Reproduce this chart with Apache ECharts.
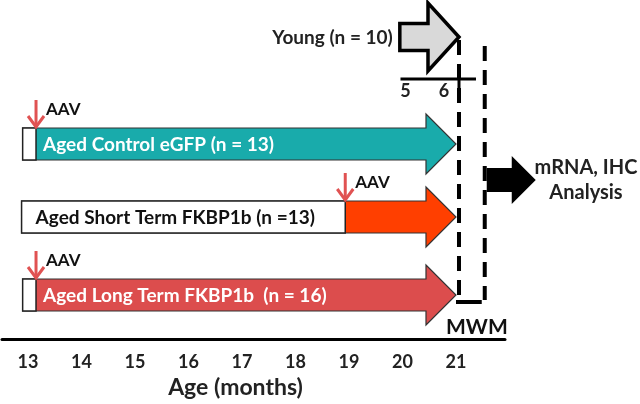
<!DOCTYPE html>
<html>
<head>
<meta charset="utf-8">
<script src="https://cdn.jsdelivr.net/npm/echarts@6/dist/echarts.min.js"></script>
<style>
  html, body { margin: 0; padding: 0; background: #fff; }
  #chart { width: 640px; height: 404px; }
</style>
</head>
<body>
<div id="chart"></div>
<script>
// data
const ageTicks = [13, 14, 15, 16, 17, 18, 19, 20, 21];
const groupNames = ['Aged Control eGFP (n = 13)', 'Aged Short Term FKBP1b (n =13)', 'Aged Long Term FKBP1b  (n = 16)'];
const groupStart = [12.9, 12.88, 12.9];   // age at start of bar (months)
const groupAav = [13.15, 18.93, 13.15];   // AAV injection age
const groupEnd = [21, 21, 21];            // age at arrow tip
const youngLabel = 'Young (n = 10)';
const youngStart = 4.95;
const youngEnd = 6;
const youngTicks = [5, 6];
const youngShift = 15;                    // young timeline drawn aligned to aged 21 mo
const mwmWindow = [21, 21.5];
const analysisLines = ['mRNA, IHC', 'Analysis'];

// layout / style
const FONT = 'Lato, "Open Sans", sans-serif';
const rowCenter = [144, 217, 295];
const groupColors = ['#19abab', '#ff3f00', '#dc4d4d'];
const aavColor = '#e05252';

function bold(size) { return { fontFamily: FONT, fontWeight: 'bold', fontSize: size }; }

function renderAged(params, api) {
  const i = params.dataIndex;
  const yc = rowCenter[i];
  const x0 = api.coord([api.value(0), yc])[0];
  const xa = api.coord([api.value(1), yc])[0];
  const xt = api.coord([api.value(2), yc])[0];
  const xb = xt - 30, h = 16, H = 30;
  const longColored = (xa - x0) < 60;
  return {
    type: 'group',
    children: [
      { type: 'polygon', shape: { points: [[x0, yc - h], [xb, yc - h], [xb, yc - H], [xt, yc], [xb, yc + H], [xb, yc + h], [x0, yc + h]] },
        style: { fill: groupColors[i], stroke: '#333', lineWidth: 1.2 } },
      { type: 'rect', shape: { x: x0, y: yc - h, width: xa - x0, height: 2 * h },
        style: { fill: '#fff', stroke: '#222', lineWidth: 1.5 } },
      { type: 'text', style: Object.assign({ text: groupNames[i], x: longColored ? xa + 7 : x0 + 14, y: yc + 1,
          fill: longColored ? '#fff' : '#111', verticalAlign: 'middle', align: 'left' }, bold(19)) },
      { type: 'polyline', shape: { points: [[xa, yc - h - 28], [xa, yc - h - 1]] },
        style: { stroke: aavColor, lineWidth: 3, fill: null } },
      { type: 'polyline', shape: { points: [[xa - 8, yc - h - 12], [xa, yc - h - 1], [xa + 8, yc - h - 12]] },
        style: { stroke: aavColor, lineWidth: 3, fill: null } },
      { type: 'text', style: Object.assign({ text: 'AAV', x: xa + 10, y: yc - h - 18, fill: '#111',
          verticalAlign: 'middle', align: 'left' }, bold(17)) }
    ]
  };
}

function renderYoung(params, api) {
  const yc = 37;
  const x0 = api.coord([api.value(0) + youngShift, 0])[0];
  const xt = api.coord([api.value(1) + youngShift, 0])[0] + 3;
  const xb = xt - 31, h = 13.5, H = 34;
  const t0 = api.coord([youngTicks[0] + youngShift, 0])[0];
  const t1 = api.coord([youngTicks[1] + youngShift, 0])[0];
  return {
    type: 'group',
    children: [
      { type: 'polygon', shape: { points: [[x0, yc - h], [xb, yc - h], [xb, yc - H], [xt, yc], [xb, yc + H], [xb, yc + h], [x0, yc + h]] },
        style: { fill: '#d9d9d9', stroke: '#000', lineWidth: 3.5, lineJoin: 'miter' } },
      { type: 'text', style: Object.assign({ text: youngLabel, x: x0 - 7, y: yc + 1, fill: '#222',
          verticalAlign: 'middle', align: 'right' }, bold(19)) },
      { type: 'line', shape: { x1: t0 - 2, y1: 79, x2: xt + 17, y2: 79 }, style: { stroke: '#000', lineWidth: 3 } },
      { type: 'line', shape: { x1: xt, y1: 71, x2: xt, y2: 91 }, style: { stroke: '#000', lineWidth: 3 } },
      { type: 'text', style: Object.assign({ text: String(youngTicks[0]), x: t0 + 3, y: 91, fill: '#222',
          verticalAlign: 'middle', align: 'center' }, bold(18)) },
      { type: 'text', style: Object.assign({ text: String(youngTicks[1]), x: t1 - 12, y: 91, fill: '#222',
          verticalAlign: 'middle', align: 'center' }, bold(18)) }
    ]
  };
}

function renderMwm(params, api) {
  const xl = api.coord([api.value(0), 0])[0] + 3;
  const xr = api.coord([api.value(1), 0])[0] + 2;
  const yc = 180, h = 12, H = 24;
  const a0 = xr + 2, ab = xr + 27, at = xr + 51;
  return {
    type: 'group',
    children: [
      { type: 'line', shape: { x1: xl, y1: 40, x2: xl, y2: 300 },
        style: { stroke: '#000', lineWidth: 4, lineDash: [15, 9] } },
      { type: 'line', shape: { x1: xr, y1: 46, x2: xr, y2: 300 },
        style: { stroke: '#000', lineWidth: 4, lineDash: [15, 9] } },
      { type: 'line', shape: { x1: xl - 3, y1: 302, x2: xr - 3, y2: 302 }, style: { stroke: '#000', lineWidth: 4 } },
      { type: 'text', style: Object.assign({ text: 'MWM', x: (xl + xr) / 2 + 5, y: 327, fill: '#111',
          verticalAlign: 'middle', align: 'center' }, bold(21)) },
      { type: 'polygon', shape: { points: [[a0, yc - h], [ab, yc - h], [ab, yc - H], [at, yc], [ab, yc + H], [ab, yc + h], [a0, yc + h]] },
        style: { fill: '#000' } },
      { type: 'text', style: Object.assign({ text: analysisLines[0], x: 586, y: 168, fill: '#222',
          verticalAlign: 'middle', align: 'center' }, bold(20)) },
      { type: 'text', style: Object.assign({ text: analysisLines[1], x: 586, y: 193, fill: '#222',
          verticalAlign: 'middle', align: 'center' }, bold(20)) }
    ]
  };
}

const chart = echarts.init(document.getElementById('chart'));
chart.setOption({
  animation: false,
  grid: { left: 2, right: 135, top: 0, bottom: 64 },
  xAxis: {
    type: 'value',
    position: 'bottom',
    min: 12.514,
    max: 21.916,
    axisLine: { onZero: false, lineStyle: { color: '#000', width: 3 } },
    axisTick: { show: false },
    splitLine: { show: false },
    axisLabel: Object.assign({ customValues: ageTicks, color: '#222', margin: 14 }, bold(18)),
    name: 'Age (months)',
    nameLocation: 'middle',
    nameGap: 37,
    nameTextStyle: Object.assign({ color: '#222', padding: [0, 36, 0, 0] }, bold(23))
  },
  yAxis: { type: 'value', min: 0, max: 340, inverse: true, show: false },
  series: [
    {
      type: 'custom',
      clip: false,
      renderItem: renderAged,
      data: groupNames.map((n, i) => [groupStart[i], groupAav[i], groupEnd[i]]),
      encode: { x: [0, 1, 2] }
    },
    {
      type: 'custom',
      clip: false,
      renderItem: renderYoung,
      data: [[youngStart, youngEnd]],
      encode: { x: [0, 1] }
    },
    {
      type: 'custom',
      clip: false,
      renderItem: renderMwm,
      data: [mwmWindow],
      encode: { x: [0, 1] }
    }
  ]
});
</script>
</body>
</html>
